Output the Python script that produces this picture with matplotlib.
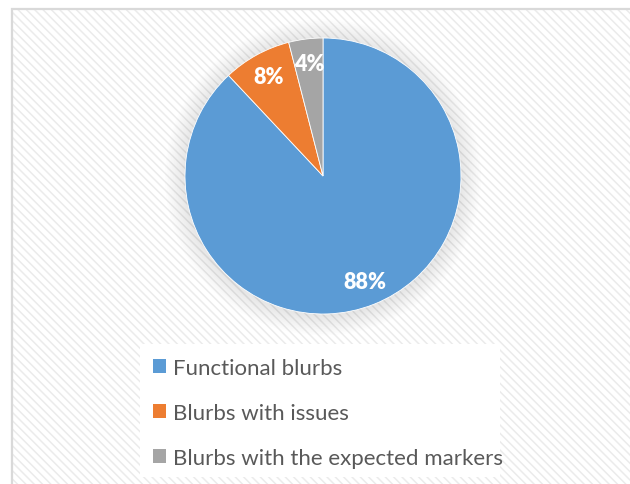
import matplotlib.pyplot as plt
from matplotlib.patches import Rectangle, Circle

labels = ['Functional blurbs', 'Blurbs with issues', 'Blurbs with the expected markers']
shares = [88, 8, 4]
colors = ['#5B9BD5', '#ED7D31', '#A5A5A5']

W, H = 630, 485
plt.rcParams['hatch.linewidth'] = 1.1

fig = plt.figure(figsize=(W / 100, H / 100), dpi=100)
fig.patch.set_facecolor('white')

# hatched chart area + grey frame
fig.patches.append(Rectangle((12 / W, 0), 1, 1 - 10 / H, transform=fig.transFigure,
                             facecolor='white', edgecolor='#ebebeb', hatch='\\\\\\\\',
                             linewidth=0, zorder=-3))
fig.patches.append(Rectangle((12 / W, -0.1), 1, 1.1 - 10 / H, transform=fig.transFigure,
                             facecolor='none', edgecolor='#d9d9d9', linewidth=1.6, zorder=-2))
# plain white box behind the legend
fig.patches.append(Rectangle((140 / W, 1 - 478 / H), 360 / W, 133 / H,
                             transform=fig.transFigure, facecolor='white',
                             edgecolor='none', zorder=-1))

# pie axes: centre (323,177) px, radius 138 px
cx, cy, r = 323, 177, 138
ax = fig.add_axes([(cx - r) / W, (H - cy - r) / H, 2 * r / W, 2 * r / H])

# soft shadow round the pie
for k in range(12):
    ax.add_patch(Circle((0.0, -0.01), 1.0 + 0.012 * (12 - k), facecolor='#9a9a9a',
                        edgecolor='none', alpha=0.02, zorder=0, clip_on=False))

wedges, _, autotexts = ax.pie(shares, colors=colors, startangle=90, counterclock=False,
                              autopct='%d%%', pctdistance=0.82, radius=1,
                              wedgeprops=dict(linewidth=0.6, edgecolor='white'),
                              textprops=dict(color='white', fontweight='heavy',
                                             fontsize=15.5, family='Lato'))
for w in wedges:
    w.set_zorder(2)
    w.set_clip_on(False)

ax.set_xlim(-1, 1)
ax.set_ylim(-1, 1)
ax.set_aspect('equal')
ax.axis('off')

leg = fig.legend(wedges, labels, loc='upper left',
                 bbox_to_anchor=(153 / W, 1 - 359 / H),
                 frameon=False, prop=dict(family='Lato', size=16),
                 labelcolor='#595959', handlelength=0.6, handleheight=0.6,
                 handletextpad=0.3, labelspacing=1.12, borderpad=0,
                 borderaxespad=0)
for h in leg.legend_handles:
    h.set_linewidth(0)

fig.savefig('out.png', dpi=100)
